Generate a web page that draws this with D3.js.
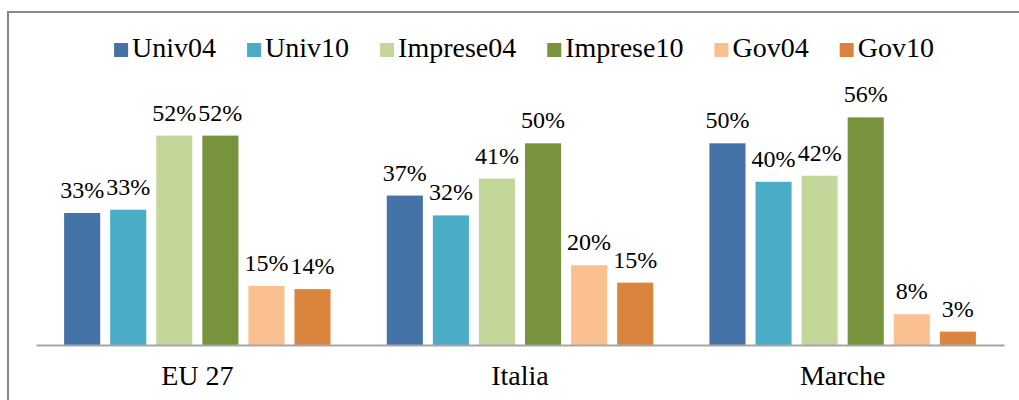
<!DOCTYPE html>
<meta charset="utf-8">
<script src="https://d3js.org/d3.v7.min.js"></script>
<style>
  body { margin: 0; background: #fff; }
</style>
<div id="chart"></div>
<script>

// data (percent)
var regions = ["EU 27", "Italia", "Marche"];
var series = ["Univ04", "Univ10", "Imprese04", "Imprese10", "Gov04", "Gov10"];
var univ04 = [32.6, 36.9, 49.8];
var univ10 = [33.4, 32.0, 40.3];
var imprese04 = [51.7, 41.1, 41.8];
var imprese10 = [51.7, 49.8, 56.2];
var gov04 = [14.6, 19.7, 7.6];
var gov10 = [13.8, 15.4, 3.3];
var colors = ["#4572A7", "#4BACC6", "#C4D79B", "#77933C", "#FAC090", "#DB843D"];

var values = [univ04, univ10, imprese04, imprese10, gov04, gov10];
var font = "'Liberation Serif', serif";

var width = 1019, height = 400;
var margin = {left: 36, right: 15, bottom: 55};
var axisY = height - margin.bottom;

var svg = d3.select("#chart")
  .append("svg")
    .attr("width", width)
    .attr("height", height);

// chart frame
svg.append("rect")
  .attr("x", 8)
  .attr("y", 12)
  .attr("width", width + 10)
  .attr("height", height + 10)
  .attr("fill", "none")
  .attr("stroke", "#878787")
  .attr("stroke-width", 2);

var x = d3.scaleBand()
  .domain(regions)
  .range([margin.left, width - margin.right]);

var xs = d3.scaleBand()
  .domain(series)
  .range([0, x.bandwidth()])
  .paddingInner(0.217)
  .paddingOuter(0.61);

var y = d3.scaleLinear()
  .domain([0, 60])
  .range([axisY, axisY - 243]);

// flatten into one row per bar
var data = [];
regions.forEach(function(r, i) {
  series.forEach(function(s, j) {
    data.push({region: r, serie: s, value: values[j][i], color: colors[j]});
  });
});

svg.selectAll(".bar")
  .data(data)
  .enter()
  .append("rect")
    .attr("class", "bar")
    .attr("x", function(d) { return x(d.region) + xs(d.serie) })
    .attr("y", function(d) { return y(d.value) })
    .attr("width", xs.bandwidth())
    .attr("height", function(d) { return axisY - y(d.value) })
    .attr("fill", function(d) { return d.color });

// value labels
svg.selectAll(".lbl")
  .data(data)
  .enter()
  .append("text")
    .attr("class", "lbl")
    .attr("x", function(d) { return x(d.region) + xs(d.serie) + xs.bandwidth() / 2 })
    .attr("y", function(d) { return y(d.value) - 15 })
    .attr("text-anchor", "middle")
    .style("font-family", font)
    .style("font-size", "24px")
    .style("fill", "#000")
    .text(function(d) { return Math.round(d.value) + "%" });

// x axis
var xAxis = svg.append("g")
  .attr("transform", "translate(0," + axisY + ")")
  .call(d3.axisBottom(x).tickSize(0).tickPadding(20));
xAxis.select(".domain")
  .attr("stroke", "#a6a6a6")
  .attr("stroke-width", 2);
xAxis.selectAll("text")
  .style("font-size", "28px")
  .style("font-family", font)
  .attr("fill", "#000");

// legend, centered
var legend = svg.append("g");
var lx = 0;
series.forEach(function(lab, i) {
  var g = legend.append("g").attr("transform", "translate(" + lx + ",0)");
  g.append("rect")
    .attr("x", 0)
    .attr("y", 43)
    .attr("width", 14)
    .attr("height", 14)
    .attr("fill", colors[i]);
  var t = g.append("text")
    .attr("x", 18)
    .attr("y", 57)
    .style("font-family", font)
    .style("font-size", "28px")
    .style("fill", "#000")
    .text(lab);
  lx += 18 + t.node().getComputedTextLength() + 31;
});
var legendW = lx - 31;
legend.attr("transform", "translate(" + (524 - legendW / 2) + ",0)");

</script>
